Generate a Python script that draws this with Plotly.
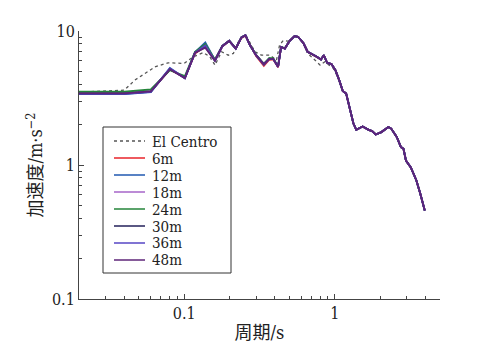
import plotly.graph_objects as go

# ---------------- data ----------------
period_head = [0.02, 0.04, 0.06, 0.0803, 0.101, 0.118, 0.138, 0.16, 0.179, 0.199, 0.22,
               0.24, 0.255, 0.273, 0.30, 0.338, 0.367, 0.39, 0.42, 0.44, 0.466, 0.50]
period_tail = [0.54, 0.57, 0.62, 0.66, 0.76, 0.81, 0.845, 0.89, 0.95, 1.01, 1.07, 1.13,
               1.19, 1.25, 1.33, 1.39, 1.53, 1.68, 1.77, 1.87, 2.04, 2.27, 2.37, 2.58,
               2.75, 2.86, 2.97, 3.2, 3.48, 3.7, 3.96]
accel_tail = [9.15, 9.06, 8.1, 7.0, 6.42, 6.13, 6.6, 5.79, 5.66, 5.1, 4.3, 3.57,
              3.41, 2.7, 2.04, 1.83, 1.94, 1.83, 1.79, 1.69, 1.76, 1.92, 1.87, 1.62,
              1.36, 1.32, 1.08, 0.96, 0.77, 0.61, 0.457]

head_6m = [3.44, 3.44, 3.56, 5.15, 4.5, 6.8, 7.7, 6.1, 7.65, 8.4, 7.45, 8.9, 9.2, 7.9,
           6.5, 5.5, 6.1, 6.15, 5.35, 7.6, 7.4, 8.4]
head_12m = [3.38, 3.38, 3.5, 5.3, 4.45, 6.95, 8.2, 6.05, 7.7, 8.45, 7.4, 8.95, 9.3, 7.85,
            6.6, 5.6, 6.2, 6.2, 5.4, 7.6, 7.4, 8.4]
head_18m = [3.46, 3.46, 3.6, 5.2, 4.5, 6.9, 7.9, 6.05, 7.7, 8.45, 7.4, 8.95, 9.3, 7.85,
            6.6, 5.65, 6.2, 6.2, 5.4, 7.6, 7.4, 8.4]
head_24m = [3.52, 3.52, 3.66, 5.1, 4.6, 7.0, 8.0, 6.1, 7.75, 8.45, 7.45, 9.0, 9.3, 7.9,
            6.65, 5.7, 6.3, 6.25, 5.45, 7.6, 7.45, 8.4]
head_30m = [3.41, 3.41, 3.53, 5.2, 4.45, 6.9, 7.6, 6.0, 7.7, 8.45, 7.4, 8.95, 9.3, 7.85,
            6.6, 5.65, 6.2, 6.2, 5.4, 7.6, 7.4, 8.4]
head_36m = [3.4, 3.4, 3.52, 5.25, 4.45, 6.9, 7.8, 6.0, 7.7, 8.45, 7.4, 8.95, 9.3, 7.85,
            6.6, 5.65, 6.2, 6.2, 5.4, 7.6, 7.4, 8.4]
head_48m = [3.42, 3.42, 3.54, 5.2, 4.45, 6.9, 7.5, 6.0, 7.7, 8.45, 7.4, 8.95, 9.3, 7.85,
            6.6, 5.65, 6.2, 6.2, 5.4, 7.6, 7.4, 8.4]

period_elcentro = [0.02, 0.04, 0.047, 0.064, 0.078, 0.10, 0.115, 0.134, 0.148, 0.16, 0.177,
                   0.196, 0.212, 0.234, 0.26, 0.295, 0.326, 0.37, 0.41, 0.43, 0.455, 0.50,
                   0.54, 0.57, 0.62, 0.66, 0.74, 0.80, 0.86, 0.98, 1.07, 1.13, 1.19, 1.25,
                   1.33, 1.39, 1.53, 1.68, 1.77, 1.87, 2.04, 2.27, 2.37, 2.58, 2.75, 2.86,
                   2.97, 3.2, 3.48, 3.7, 3.96]
accel_elcentro = [3.5, 3.62, 4.3, 5.4, 5.79, 5.73, 6.42, 6.9, 6.42, 5.56, 7.0,
                  6.6, 6.8, 8.8, 9.06, 7.0, 6.6, 6.6, 6.06, 7.86, 8.5, 8.35,
                  9.1, 9.06, 8.1, 6.8, 6.06, 5.56, 5.89, 5.25, 4.3, 3.57, 3.41, 2.7,
                  2.04, 1.83, 1.94, 1.83, 1.79, 1.69, 1.76, 1.92, 1.87, 1.62, 1.36, 1.32,
                  1.08, 0.96, 0.77, 0.61, 0.457]

series_names = ["6m", "12m", "18m", "24m", "30m", "36m", "48m"]
series_heads = [head_6m, head_12m, head_18m, head_24m, head_30m, head_36m, head_48m]
series_colors = ["#e8232a", "#2058b0", "#a664c8", "#24853a", "#23205a", "#5646c4", "#5e2478"]
elcentro_name = "El Centro"
elcentro_color = "#555555"

x_tickvals = [0.1, 1]
x_ticktext = ["0.1", "1"]
x_minorvals = [0.02, 0.03, 0.04, 0.05, 0.06, 0.07, 0.08, 0.09,
               0.2, 0.3, 0.4, 0.5, 0.6, 0.7, 0.8, 0.9, 2, 3, 4, 5]
y_tickvals = [0.1, 1, 10]
y_ticktext = ["0.1", "1", "10"]
y_minorvals = [0.2, 0.3, 0.4, 0.5, 0.6, 0.7, 0.8, 0.9, 2, 3, 4, 5, 6, 7, 8, 9]

# ---------------- figure ----------------
# the page body has an 8px margin, so the figure is laid out 8px in from the window edge
OFF = 8
W, H = 483 - OFF, 362 - OFF
ML, MR, MT, MB = 71, 43, 23, 63
PW, PH = W - ML - MR, H - MT - MB
SERIF = "DejaVu Serif Condensed, DejaVu Serif, Noto Sans CJK SC, serif"

fig = go.Figure()
fig.add_trace(go.Scatter(x=period_elcentro, y=accel_elcentro, mode="lines",
                         name=elcentro_name, showlegend=False,
                         line=dict(color=elcentro_color, width=1.3, dash="dot")))
for name, head, color in zip(series_names, series_heads, series_colors):
    fig.add_trace(go.Scatter(x=period_head + period_tail, y=head + accel_tail,
                             mode="lines", name=name, showlegend=False,
                             line=dict(color=color, width=1.8)))

axis_common = dict(type="log", showline=True, linecolor="#444", linewidth=1,
                   ticks="inside", ticklen=5, tickcolor="#444", showgrid=False,
                   zeroline=False, tickmode="array",
                   tickfont=dict(family=SERIF, size=16, color="#222"))
fig.update_xaxes(**axis_common, range=[-1.69897, 0.69897],
                 tickvals=x_tickvals, ticktext=x_ticktext,
                 minor=dict(tickvals=x_minorvals, ticks="inside", ticklen=3, tickcolor="#444"),
                 title=dict(text="周期/s", standoff=4,
                            font=dict(family=SERIF, size=18, color="#222")))
fig.update_yaxes(**axis_common, range=[-1, 1],
                 tickvals=y_tickvals, ticktext=y_ticktext,
                 minor=dict(tickvals=y_minorvals, ticks="inside", ticklen=3, tickcolor="#444"),
                 title=dict(text="加速度/m·s<sup>−2</sup>", standoff=4,
                            font=dict(family=SERIF, size=18, color="#222")))

# ---------------- legend (drawn box) ----------------
def px_x(px):
    return (px - OFF - ML) / PW

def px_y(py):
    return (H - MB - (py - OFF)) / PH

shapes = [dict(type="rect", xref="paper", yref="paper",
               x0=px_x(103), x1=px_x(231), y0=px_y(273), y1=px_y(127),
               line=dict(color="#333", width=1), fillcolor="white", layer="above")]
legend_names = [elcentro_name] + series_names
legend_colors = [elcentro_color] + series_colors
for i, col in enumerate(legend_colors):
    yc = 141 + 17 * i
    shapes.append(dict(type="line", xref="paper", yref="paper",
                       x0=px_x(114), x1=px_x(145), y0=px_y(yc), y1=px_y(yc),
                       line=dict(color=col, width=1.5 if i else 1.3,
                                 dash="dot" if i == 0 else "solid"),
                       layer="above"))
legend_text = "<br>".join('<span style="font-size:15px">%s</span>' % nm for nm in legend_names)
annotations = [dict(xref="paper", yref="paper", x=px_x(150), y=px_y(141 + 17 * 3.5),
                    xanchor="left", yanchor="middle", align="left", showarrow=False,
                    text=legend_text, font=dict(family=SERIF, size=13, color="#222"))]

fig.update_layout(width=W, height=H, margin=dict(l=ML, r=MR, t=MT, b=MB, autoexpand=False),
                  paper_bgcolor="white", plot_bgcolor="white", showlegend=False,
                  shapes=shapes, annotations=annotations)

fig.write_html("out.html")
